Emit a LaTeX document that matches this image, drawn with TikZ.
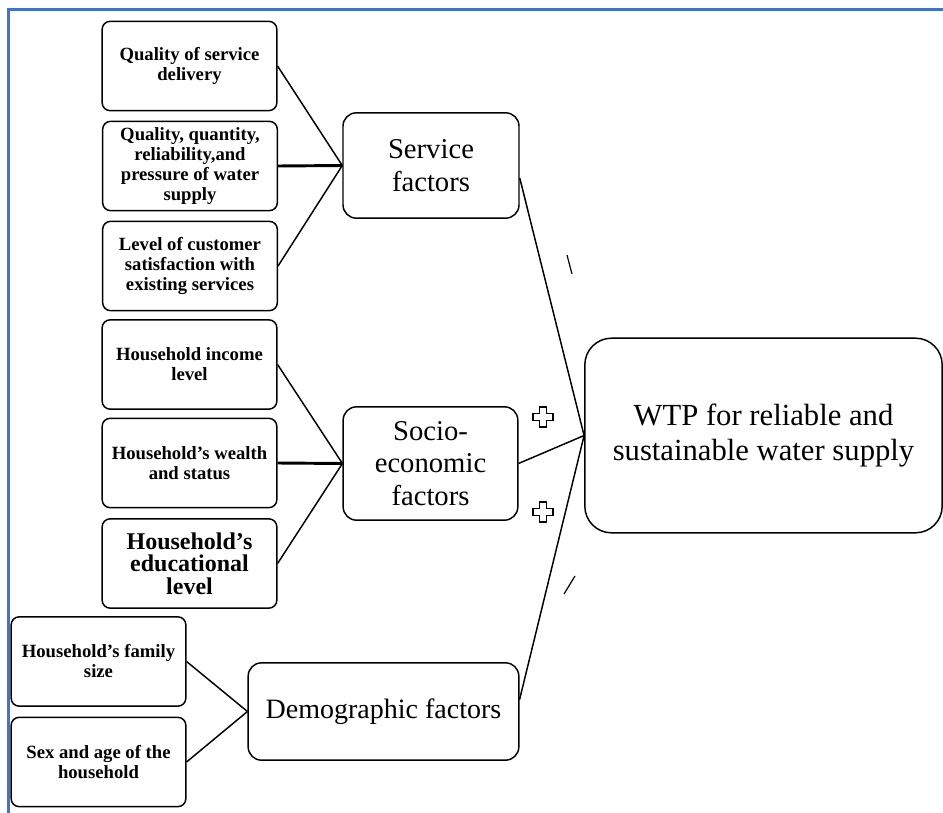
\documentclass[tikz,border=0pt]{standalone}
\usepackage{fontspec}
\setmainfont{Liberation Serif}
\usetikzlibrary{positioning}
\definecolor{frameblue}{RGB}{68,114,196}

\tikzset{
  cause/.style={draw, rounded corners=6pt, line width=1.1pt, align=center,
    inner sep=0pt, minimum width=131pt, minimum height=67pt,
    font=\fontsize{14}{15}\selectfont\bfseries},
  factor/.style={draw, rounded corners=10pt, line width=1.1pt, align=center,
    inner sep=0pt, font=\fontsize{21.5}{24.5}\selectfont},
  link/.style={line width=1.1pt},
  boldlink/.style={line width=2.2pt}
}

\begin{document}
\begin{tikzpicture}[x=0.75pt, y=-0.75pt]
                \useasboundingbox (0,0) rectangle (943,813);
                % frame
                \draw [frameblue, line width=2.2pt] (943,9.5) -- (8.5,9.5) -- (8.5,813);
                % service factors
                \node [cause] (qdel) at (189.5,66) {Quality of service\\delivery};
                \node [cause] (qsup) at (190,166) {Quality, quantity,\\reliability,and\\pressure of water\\supply};
                \node [cause] (csat) at (190,266) {Level of customer\\satisfaction with\\existing services};
                % socio-economic factors
                \node [cause] (hinc) at (189.5,364.5) {Household income\\level};
                \node [cause] (hwea) at (189.5,463) {Household’s wealth\\and status};
                \node [cause, font=\fontsize{18}{17}\selectfont\bfseries] (hedu) at (189.5,563.5) {Household’s\\educational\\level};
                % demographic factors
                \node [cause] (hfam) at (98.5,661.5) {Household’s family\\size};
                \node [cause] (hsex) at (98.5,762) {Sex and age of the\\household};
                % middle boxes
                \node [factor, minimum width=132pt, minimum height=79pt] (service) at (431,165.5) {Service\\factors};
                \node [factor, minimum width=131pt, minimum height=85pt] (socio) at (430.5,463.5) {Socio-\\economic\\factors};
                \node [factor, minimum width=203pt, minimum height=73pt, font=\fontsize{21}{24}\selectfont] (demo) at (383.5,711.5) {Demographic factors};
                \node [factor, rounded corners=20pt, minimum width=268pt, minimum height=146pt, font=\fontsize{23}{26}\selectfont] (wtp) at (763.5,435.5) {WTP for reliable and\\sustainable water supply};
                % connectors
                \draw [link] (qdel.east) -- (service.west);
                \draw [boldlink] (qsup.east) -- (service.west);
                \draw [link] (csat.east) -- (service.west);
                \draw [link] (hinc.east) -- (socio.west);
                \draw [boldlink] (hwea.east) -- (socio.west);
                \draw [link] (hedu.east) -- (socio.west);
                \draw [link] (hfam.east) -- (demo.west);
                \draw [link] (hsex.east) -- (demo.west);
                \draw [link] (service.-8) -- (wtp.west);
                \draw [link] (socio.east) -- (wtp.west);
                \draw [link] (demo.5) -- (wtp.west);
                % marks
                \draw [line width=0.9pt] (567,255) -- (572,274);
                \draw [line width=0.9pt] (564,594) -- (575,576);
                \foreach \cy in {417,512}
                  \draw [line width=1pt, shift={(543,\cy)}] (-3.5,-10) -- (3.5,-10) -- (3.5,-3.5) -- (10,-3.5) -- (10,3.5) -- (3.5,3.5) -- (3.5,10) -- (-3.5,10) -- (-3.5,3.5) -- (-10,3.5) -- (-10,-3.5) -- (-3.5,-3.5) -- cycle;
\end{tikzpicture}
\end{document}
